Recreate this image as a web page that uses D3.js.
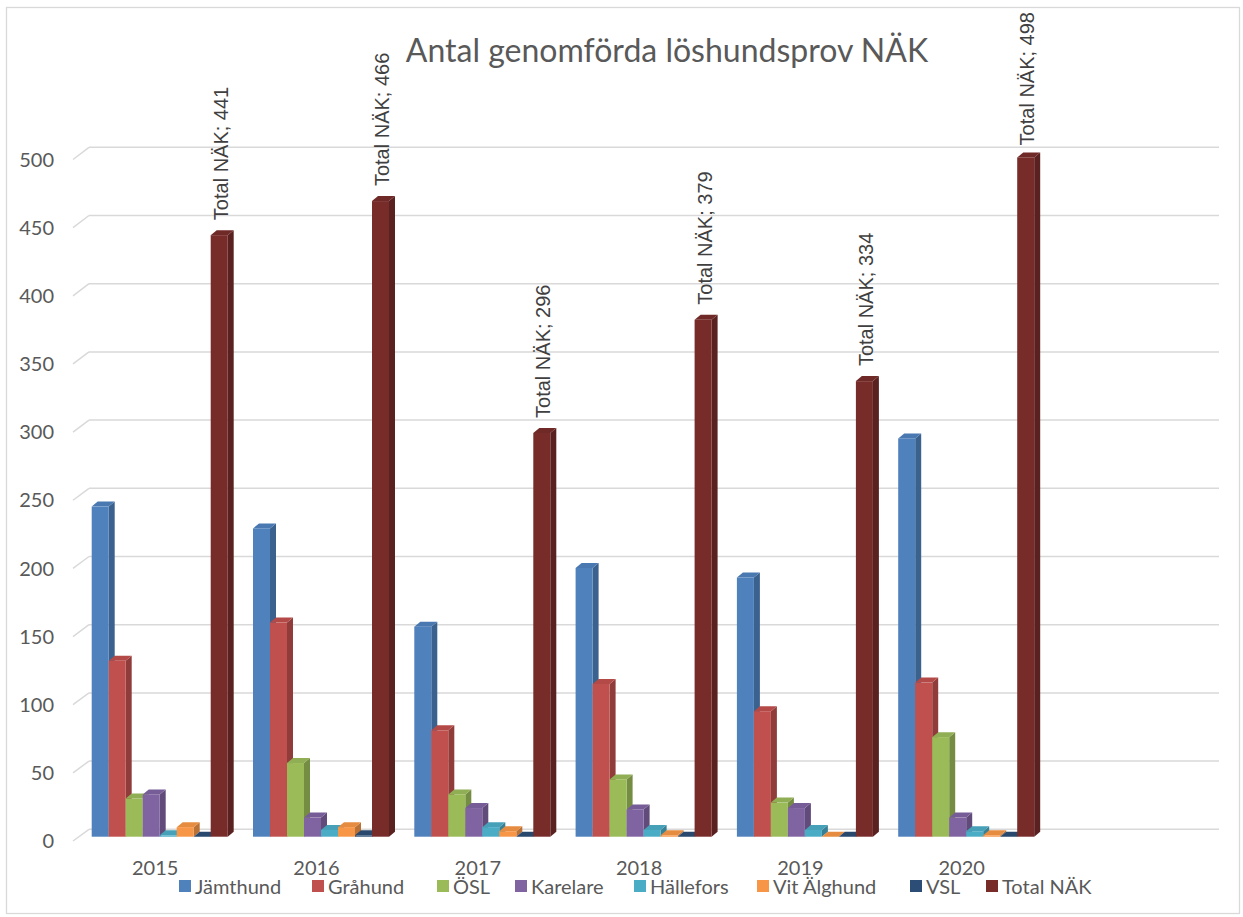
<!DOCTYPE html>
<html><head><meta charset="utf-8">
<script src="https://cdn.jsdelivr.net/npm/d3@7"></script>
<style>body{margin:0;background:#fff}svg{display:block}</style>
</head><body>
<svg id="c" width="1243" height="917"></svg>
<script>
const years = ["2015","2016","2017","2018","2019","2020"];
const seriesNames = ["Jämthund","Gråhund","ÖSL","Karelare","Hällefors","Vit Älghund","VSL","Total NÄK"];
const jamthund   = [242,226,154,197,190,292];
const grahund    = [129,157,78,112,92,113];
const osl        = [28,54,31,42,25,73];
const karelare   = [31,14,21,20,21,14];
const hallefors  = [1,5,7,5,5,4];
const vitAlghund = [7,7,4,1,0,1];
const vsl        = [0,1,0,0,0,0];
const totalNak   = [441,466,296,379,334,498];
const yTicks = [0,50,100,150,200,250,300,350,400,450,500];
const colors = ["#4F81BD","#C0504D","#9BBB59","#8064A2","#4BACC6","#F79646","#2C4D75","#772C2A"];

const seriesValues = [jamthund,grahund,osl,karelare,hallefors,vitAlghund,vsl,totalNak];
const svg = d3.select("#c");

// chart border
svg.append("rect").attr("x",6.5).attr("y",7.5).attr("width",1233).attr("height",906)
  .attr("fill","#fff").attr("stroke","#d9d9d9").attr("stroke-width",1.3);

// title
svg.append("text").attr("x",667).attr("y",62).attr("text-anchor","middle")
  .attr("font-family","Lato").attr("font-size",32).attr("fill","#595959")
  .text("Antal genomförda löshundsprov NÄK");

// scales
const yBar  = d3.scaleLinear().domain([0,500]).range([836.7,154.7]);
const yBack = d3.scaleLinear().domain([0,500]).range([829.3,147.3]);
const yFront= d3.scaleLinear().domain([0,500]).range([841,159.5]);
const x0 = d3.scaleBand().domain(years.concat([""])).range([79.05,79.05+7*161.3]);
const x1 = d3.scaleBand().domain(seriesNames).range([12.65,161.3-12.65]);

// gridlines (back wall + slanted side wall)
const grid = svg.append("g");
yTicks.forEach(v=>{
  grid.append("line").attr("x1",89).attr("x2",1219).attr("y1",yBack(v)).attr("y2",yBack(v))
    .attr("stroke","#d9d9d9").attr("stroke-width",1.5);
  grid.append("line").attr("x1",73).attr("x2",89).attr("y1",yFront(v)).attr("y2",yBack(v))
    .attr("stroke","#d9d9d9").attr("stroke-width",1.5);
  svg.append("text").attr("x",54).attr("y",yFront(v)).attr("dy","0.36em").attr("text-anchor","end")
    .attr("font-family","Lato").attr("font-size",20).attr("fill","#595959").text(v);
});

// category labels
years.forEach(yr=>{
  svg.append("text").attr("x",x0(yr)+x0.bandwidth()/2-4.5).attr("y",868).attr("dy","0.36em")
    .attr("text-anchor","middle").attr("font-family","Lato").attr("font-size",20)
    .attr("fill","#595959").text(yr);
});

// bars
const dx=6, dy=-5, w=x1.bandwidth();
const base = yBar(0);
const barsG = svg.append("g");
years.forEach((yr,i)=>{
  seriesNames.forEach((s,j)=>{
    const v = seriesValues[j][i];
    const x = x0(yr)+x1(s);
    const yt = yBar(v);
    const c = d3.color(colors[j]);
    const g = barsG.append("g");
    g.append("path").attr("d",`M${x+w},${yt}L${x+w+dx},${yt+dy}L${x+w+dx},${base+dy}L${x+w},${base}Z`)
      .attr("fill",c.darker(0.8));
    g.append("path").attr("d",`M${x},${yt}L${x+w},${yt}L${x+w+dx},${yt+dy}L${x+dx},${yt+dy}Z`)
      .attr("fill",c.darker(0.2));
    g.append("rect").attr("x",x).attr("y",yt).attr("width",w).attr("height",Math.max(0,base-yt))
      .attr("fill",colors[j]);
  });
  const xl = x0(yr)+x1("Total NÄK")+w;
  let ys = yBar(totalNak[i]) - 15;
  const lbl = svg.append("text").attr("font-family","Liberation Sans, Arial").attr("font-size",20)
    .attr("fill","#404040").text("Total NÄK; "+totalNak[i]);
  const len = lbl.node().getComputedTextLength();
  if (ys - len < 12) ys = 12 + len;
  lbl.attr("transform",`translate(${xl},${ys}) rotate(-90)`);
});

// legend
const legX = [179,312,437,515,634,757,910,986];
seriesNames.forEach((s,j)=>{
  svg.append("rect").attr("x",legX[j]).attr("y",880).attr("width",12).attr("height",12).attr("fill",colors[j]);
  svg.append("text").attr("x",legX[j]+16).attr("y",887).attr("dy","0.36em")
    .attr("font-family","Lato").attr("font-size",20).attr("fill","#595959").text(s);
});
</script>
</body></html>
